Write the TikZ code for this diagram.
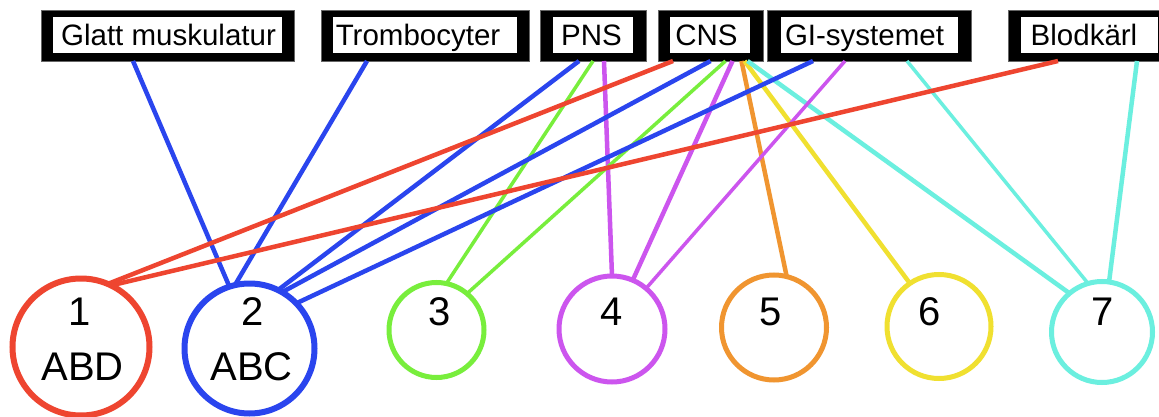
\documentclass[tikz,border=0pt]{standalone}
\usepackage{fontspec}
\setmainfont{Liberation Sans}
\definecolor{cred}{HTML}{EE4530}
\definecolor{cblue}{HTML}{2A45EE}
\definecolor{cgreen}{HTML}{78EE3C}
\definecolor{cmag}{HTML}{CC55EE}
\definecolor{corange}{HTML}{F09530}
\definecolor{cyellow}{HTML}{F0E030}
\definecolor{ccyan}{HTML}{6BEFDF}
\begin{document}
\begin{tikzpicture}[x=1pt,y=-1pt,
  frame/.style={fill=black, draw=black!60, line width=0.5pt, inner sep=0pt, outer sep=0pt, minimum height=51pt},
  tagtext/.style={inner sep=0pt, font=\fontsize{29.5}{35}\selectfont, text height=21pt, text depth=0pt},
  ring/.style={circle, draw, inner sep=0pt, outer sep=0pt},
  num/.style={inner sep=0pt, font=\fontsize{40}{48}\selectfont, text height=28.6pt, text depth=0pt},
  link/.style={line width=4.5pt},
  thin link/.style={line width=3.5pt}]
\useasboundingbox (0,0) rectangle (1159,417);
\fill[white] (0,0) rectangle (1159,417);

% boxes
\node[frame, minimum width=253pt] (gm) at (167.5,35.5) {};
\node[frame, minimum width=208pt] (tr) at (425,35.5) {};
\node[frame, minimum width=106pt] (pns) at (593,35.5) {};
\node[frame, minimum width=105pt] (cns) at (710.5,35.5) {};
\node[frame, minimum width=204pt] (gi) at (869,35.5) {};
\node[frame, minimum width=162pt] (bk) at (1089,35.5) {};
\foreach \b/\l/\r in {gm/12/12, tr/12/12, pns/13/13, cns/12/13, gi/14/13, bk/13/12}
  \fill[white] ([shift={(\l,7)}]\b.north west) rectangle ([shift={(-\r,-8)}]\b.south east);
\node[tagtext] (gmt) at (168.5,35) {Glatt muskulatur};
\node[tagtext] (trt) at (418,35) {Trombocyter};
\node[tagtext] (pnst) at (591.5,35) {PNS};
\node[tagtext] (cnst) at (706.5,35) {CNS};
\node[tagtext] (git) at (864.5,35) {GI-systemet};
\node[tagtext] (bkt) at (1084,35) {Blodkärl};

% circles
\node[ring, draw=cred, line width=6pt, minimum size=137pt] (c1) at (81,347) {};
\node[ring, draw=cblue, line width=6pt, minimum size=130pt] (c2) at (249.5,348.5) {};
\node[ring, draw=cgreen, line width=5pt, minimum size=95pt] (c3) at (436.5,330) {};
\node[ring, draw=cmag, line width=5pt, minimum size=106pt] (c4) at (612,329) {};
\node[ring, draw=corange, line width=5pt, minimum size=105pt] (c5) at (774,327.5) {};
\node[ring, draw=cyellow, line width=5pt, minimum size=104pt] (c6) at (939,326.5) {};
\node[ring, draw=ccyan, line width=5pt, minimum size=101pt] (c7) at (1102,332) {};

\node[num] (n1) at (80,311) {1};
\node[num] (l1) at (82.5,366.5) {ABD};
\node[num] (n2) at (253,311) {2};
\node[num] (l2) at (251.5,366.5) {ABC};
\node[num] (n3) at (440,311) {3};
\node[num] (n4) at (612,311) {4};
\node[num] (n5) at (771,311) {5};
\node[num] (n6) at (930,311) {6};
\node[num] (n7) at (1103,311) {7};

% connectors
\draw[link, cblue] ([xshift=-34.5pt]gm.south) -- (c2.108);
\draw[link, cblue] ([xshift=-58pt]tr.south) -- (c2.103);
\draw[link, cblue] ([xshift=-14pt]pns.south) -- (c2.64);
\draw[thin link, cgreen] ([xshift=0pt]pns.south) -- (c3.78);
\draw[link, cmag] ([xshift=11pt]pns.south) -- (c4.90);
\draw[link, cred] ([xshift=-37.5pt]cns.south) -- (c1.67);
\draw[link, cblue] ([xshift=0pt]cns.south) -- (c2.60);
\draw[thin link, cgreen] ([xshift=15pt]cns.south) -- (c3.50);
\draw[link, cmag] ([xshift=22pt]cns.south) -- (c4.67);
\draw[link, corange] ([xshift=31pt]cns.south) -- (c5.76);
\draw[link, cyellow] ([xshift=34pt]cns.south) -- (c6.124);
\draw[link, ccyan] ([xshift=37pt]cns.south) -- (c7.130);
\draw[link, cblue] ([xshift=-56pt]gi.south) -- (c2.44);
\draw[thin link, cmag] ([xshift=-24pt]gi.south) -- (c4.50);
\draw[thin link, ccyan] ([xshift=38pt]gi.south) -- (c7.106);
\draw[link, cred] ([xshift=-31pt]bk.south) -- (c1.64);
\draw[link, ccyan] ([xshift=48pt]bk.south) -- (c7.82);
\end{tikzpicture}
\end{document}
